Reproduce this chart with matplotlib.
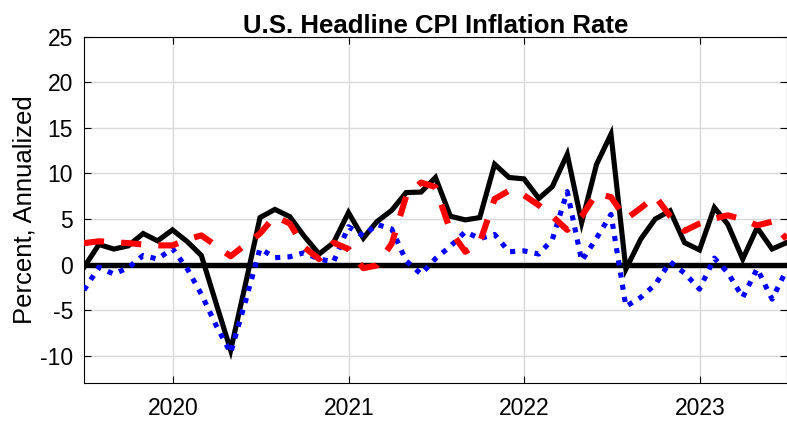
import numpy as np
import pandas as pd
import matplotlib
matplotlib.use("Agg")
import matplotlib.pyplot as plt

# Monthly dates (month-end), Jun 2019 .. Jun 2023
dates = pd.date_range("2019-06-30", "2023-06-30", freq="ME")

headline = [-0.3, 2.2, 1.7, 2.05, 3.4, 2.6, 3.8, 2.5, 1.0, -4.3,
            -9.4, -2.1, 5.15, 6.05, 5.25, 3.1, 1.15, 2.4, 5.7, 2.9,
            4.7, 5.95, 7.9, 7.95, 9.55, 5.3, 4.9, 5.15, 11.0, 9.55,
            9.4, 7.25, 8.55, 12.1, 4.6, 11.0, 14.3, -0.5, 2.8, 5.0,
            5.9, 2.4, 1.6, 6.25, 4.4, 0.6, 4.05, 1.7, 2.4]

dotted_blue = [-2.8, -0.3, -1.05, -0.35, 1.0, 0.6, 1.75, -0.5, -3.25, -6.7,
               -9.7, -4.0, 1.75, 0.75, 0.85, 1.3, 0.6, 0.3, 4.15, 3.15,
               4.4, 3.9, 0.4, -1.05, 0.65, 2.0, 3.6, 2.85, 3.3, 1.4,
               1.5, 1.15, 2.75, 8.0, 0.4, 2.9, 5.5, -4.6, -3.6, -2.2,
               0.3, -0.95, -2.7, 0.7, -0.9, -3.6, -0.45, -3.8, -0.6]

dashed_red = [2.35, 2.55, 2.45, 2.35, 2.2, 2.1, 2.1, 2.75, 3.2, 2.05,
              0.9, 2.2, 3.4, 5.3, 4.5, 1.9, 0.6, 2.4, 1.7, -0.4,
              -0.1, 2.3, 7.5, 9.0, 8.5, 3.7, 1.4, 2.4, 7.2, 8.1,
              7.6, 6.5, 5.3, 3.8, 5.3, 7.8, 7.4, 5.0, 6.2, 7.5,
              5.3, 3.7, 4.5, 5.05, 5.4, 4.95, 4.3, 4.7, 2.8]

year_ticks = ["2020-01-01", "2021-01-01", "2022-01-01", "2023-01-01"]
year_labels = ["2020", "2021", "2022", "2023"]
y_ticks = [-10, -5, 0, 5, 10, 15, 20, 25]

plt.rcParams['font.family'] = ['Liberation Sans', 'DejaVu Sans']

fig = plt.figure(figsize=(7.87, 4.25), dpi=100)
ax = fig.add_axes([84 / 787, 1 - 383 / 425, (786.5 - 84) / 787, (383 - 36.7) / 425])

ax.axhline(0, color='black', lw=3.9, zorder=2)
ax.plot(dates, headline, color='black', lw=3.7, zorder=3, solid_joinstyle='miter')
ax.plot(dates, dotted_blue, color='#0000ff', lw=3.7, linestyle=(0, (1.0, 1.4)),
        dash_capstyle='butt', zorder=4)
ax.plot(dates, dashed_red, color='#ff0000', lw=4.4, linestyle=(0, (3.3, 2.8)),
        dash_capstyle='butt', zorder=5)

ax.set_xlim(dates[0], dates[-1])
ax.set_ylim(-13, 25)
ax.set_xticks(pd.to_datetime(year_ticks))
ax.set_xticklabels(year_labels)
ax.set_yticks(y_ticks)
ax.set_yticklabels([str(v) for v in y_ticks])

ax.grid(True, color='#d9d9d9', lw=1.0, zorder=0)
ax.set_axisbelow(True)
ax.tick_params(direction='in', length=5, width=0.8, top=True, right=True,
               labelsize=16.5, colors='black')
ax.tick_params(axis='x', pad=10)
ax.tick_params(axis='y', pad=8)
for s in ax.spines.values():
    s.set_linewidth(0.8)
    s.set_color('black')

ax.set_ylabel("Percent, Annualized", fontsize=18.5, labelpad=2)
ax.set_title("U.S. Headline CPI Inflation Rate", fontsize=18.5, fontweight='bold', pad=3)

fig.savefig("out.png", dpi=100)
